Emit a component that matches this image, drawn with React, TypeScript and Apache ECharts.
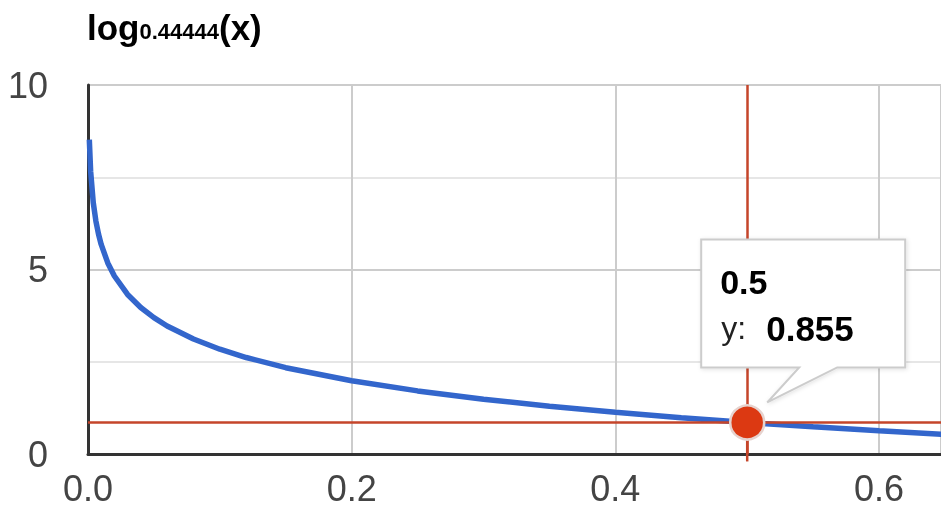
import React, { useEffect, useRef } from "react";
import * as echarts from "echarts";

const xValues = [0.001, 0.002, 0.004, 0.006, 0.008, 0.01, 0.015, 0.02, 0.03, 0.04, 0.05, 0.06, 0.08, 0.1, 0.12, 0.15, 0.2, 0.25, 0.3, 0.35, 0.4, 0.45, 0.5, 0.55, 0.6, 0.65];
const yValues = [8.518, 7.664, 6.809, 6.309, 5.954, 5.679, 5.179, 4.824, 4.324, 3.969, 3.694, 3.469, 3.115, 2.839, 2.615, 2.339, 1.985, 1.71, 1.485, 1.295, 1.13, 0.985, 0.855, 0.737, 0.63, 0.531];
const focusPoint = [0.5, 0.855];
const xTicks = [0, 0.2, 0.4, 0.6];
const yTicks = [0, 5, 10];
const titleBase = "log";
const titleSub = "0.44444";
const titleArg = "(x)";

const FONT = "'Liberation Sans', Arial, sans-serif";

export default function App() {
  const ref = useRef<HTMLDivElement>(null);
  useEffect(() => {
    if (!ref.current) return;
    const chart = echarts.init(ref.current, null, { renderer: "svg" });
    const data = xValues.map((x, i) => [x, yValues[i]]);
    chart.setOption({
      animation: false,
      textStyle: { fontFamily: FONT },
      title: {
        left: 82,
        top: 5,
        text: `{a|${titleBase}}{b|${titleSub}}{a|${titleArg}}`,
        textStyle: {
          rich: {
            a: { fontSize: 35, fontWeight: "bold", color: "#000", fontFamily: FONT },
            b: { fontSize: 22, fontWeight: "bold", color: "#000", fontFamily: FONT, verticalAlign: "bottom", padding: [0, 0, 3, 0] },
          },
        },
      },
      grid: { left: 88, right: 0, top: 85, bottom: 76, containLabel: false },
      xAxis: {
        type: "value",
        min: 0,
        max: 0.647,
        interval: 0.2,
        axisLine: { show: true, onZero: false, lineStyle: { color: "#333", width: 3 } },
        axisTick: { show: false },
        axisLabel: {
          fontSize: 36,
          color: "#444",
          margin: 16,
          fontFamily: FONT,
          showMaxLabel: false,
          formatter: (v: number) => {
            const t = xTicks.find((k) => Math.abs(k - v) < 1e-6);
            return t === undefined ? "" : t.toFixed(1);
          },
        },
        splitLine: { show: true, lineStyle: { color: "#cccccc", width: 2 } },
      },
      yAxis: {
        type: "value",
        min: 0,
        max: 10,
        interval: 2.5,
        axisLine: { show: true, onZero: false, lineStyle: { color: "#333", width: 3 } },
        axisTick: { show: false },
        axisLabel: {
          fontSize: 36,
          color: "#444",
          margin: 40,
          fontFamily: FONT,
          formatter: (v: number) => {
            const t = yTicks.find((k) => Math.abs(k - v) < 1e-6);
            return t === undefined ? "" : String(t);
          },
        },
        splitLine: { show: true, lineStyle: { color: ["#cccccc", "#e6e6e6"], width: 2 } },
      },
      series: [
        {
          type: "line",
          data,
          showSymbol: false,
          smooth: false,
          lineStyle: { color: "#3366cc", width: 5.5 },
          z: 3,
          markLine: {
            silent: true,
            symbol: "none",
            label: { show: false },
            lineStyle: { color: "#c5452a", width: 2.5, type: "solid" },
            data: [{ xAxis: focusPoint[0] }, { yAxis: focusPoint[1] }],
          },
        },
        {
          type: "scatter",
          data: [focusPoint],
          symbol: "circle",
          symbolSize: 34,
          itemStyle: { color: "#dc3912", opacity: 1, borderColor: "#e6d3cf", borderWidth: 2.5 },
          z: 5,
        },
      ],
    });

    const p = chart.convertToPixel({ gridIndex: 0 }, focusPoint) as number[];
    const L = p[0] - 46;
    const T = p[1] - 183;
    const R = L + 204;
    const B = T + 128;
    chart.setOption({
      graphic: [
        {
          type: "line",
          z: 4,
          shape: { x1: p[0], y1: p[1], x2: p[0], y2: p[1] + 39 },
          style: { stroke: "#c5452a", lineWidth: 2.5 },
        },
        {
          type: "polygon",
          z: 100,
          shape: {
            points: [
              [L, T],
              [R, T],
              [R, B],
              [p[0] + 90, B],
              [p[0] + 20, p[1] - 20],
              [p[0] + 52, B],
              [L, B],
            ],
          },
          style: {
            fill: "#fff",
            stroke: "#cccccc",
            lineWidth: 2,
            shadowBlur: 4,
            shadowColor: "rgba(0,0,0,0.12)",
            shadowOffsetX: 1,
            shadowOffsetY: 1,
          },
        },
        {
          type: "text",
          z: 101,
          x: L + 19,
          y: T + 26,
          style: { text: "0.5", fontSize: 34, fontWeight: "bold", fill: "#000", fontFamily: FONT },
        },
        {
          type: "text",
          z: 101,
          x: L + 20,
          y: T + 73,
          style: { text: "y:", fontSize: 32, fill: "#222", fontFamily: FONT },
        },
        {
          type: "text",
          z: 101,
          x: L + 65,
          y: T + 72,
          style: { text: "0.855", fontSize: 35, fontWeight: "bold", fill: "#000", fontFamily: FONT },
        },
      ],
    });
    return () => chart.dispose();
  }, []);
  return <div ref={ref} style={{ position: "fixed", left: 0, top: 0, width: 941, height: 530 }} />;
}
